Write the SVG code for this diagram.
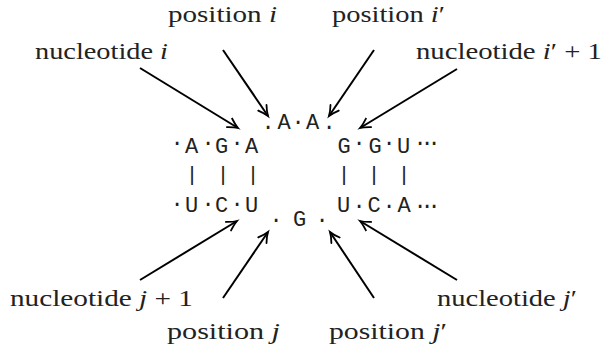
<svg xmlns="http://www.w3.org/2000/svg" width="603" height="354" viewBox="0 0 603 354">
<style>
.lbl{font-size:24px;fill:#222}
.it{font-style:italic}
.tt{font-size:22px;fill:#222;text-anchor:middle}
.bar{font-size:21px;fill:#222;text-anchor:middle}
.arr{stroke:#000;stroke-width:2;fill:none;marker-end:url(#ah)}
</style>
<defs>
<marker id="ah" markerUnits="userSpaceOnUse" markerWidth="14" markerHeight="14" viewBox="-11 -7 14 14" refX="0" refY="0" orient="auto">
<path d="M-10,-5 Q-4,-1.2 0,0 Q-4,1.2 -10,5" stroke="#000" stroke-width="1.8" fill="none" stroke-linecap="round"/>
</marker>
</defs>
<rect width="603" height="354" fill="#fff"/>
<g id="sequence" font-family="Liberation Mono, monospace">
<text class="tt" x="177 191.5 208 221.5 237 251.5" y="150 153 150 153 150 153">·A·G·A</text>
<text class="tt" x="344 359 375 389 403.5 420 427 434" y="153 150 153 150 153 150 150 150">G·G·U···</text>
<text class="bar" x="192" y="181">|</text><text class="bar" x="223" y="181">|</text><text class="bar" x="253" y="181">|</text>
<text class="bar" x="344" y="181">|</text><text class="bar" x="374" y="181">|</text><text class="bar" x="404" y="181">|</text>
<text class="tt" x="177 191.5 208 221.5 237 251.5" y="211 212 211 212 211 212">·U·C·U</text>
<text class="tt" x="343.5 359 374 389 404 420 427 434" y="212 213 212 213 212 213 213 213">U·C·A···</text>
<text class="tt" x="268 284 298 312.5 329" y="129 129 129 129 129">.A·A.</text>
<text class="tt" x="276 299.5 322" y="227 226 227">·G·</text>
</g>
<g id="connectors">
<line class="arr" x1="140" y1="68" x2="238" y2="128"/>
<line class="arr" x1="223" y1="50" x2="268" y2="116"/>
<line class="arr" x1="374" y1="50" x2="329" y2="116"/>
<line class="arr" x1="457" y1="69" x2="360" y2="128"/>
<line class="arr" x1="140" y1="280" x2="237" y2="221"/>
<line class="arr" x1="223" y1="298" x2="268" y2="232"/>
<line class="arr" x1="374" y1="298" x2="330" y2="232"/>
<line class="arr" x1="457" y1="280" x2="360" y2="221"/>
</g>
<g font-family="Liberation Serif, serif">
<g id="label-nuc-i"><text class="lbl" x="35" y="59" textLength="133" lengthAdjust="spacingAndGlyphs">nucleotide <tspan class="it">i</tspan></text></g>
<g id="label-pos-i"><text class="lbl" x="168" y="22" textLength="109" lengthAdjust="spacingAndGlyphs">position <tspan class="it">i</tspan></text></g>
<g id="label-pos-i2"><text class="lbl" x="332" y="22" textLength="113" lengthAdjust="spacingAndGlyphs">position <tspan class="it">i</tspan>′</text></g>
<g id="label-nuc-i2"><text class="lbl" x="416" y="59" textLength="186" lengthAdjust="spacingAndGlyphs">nucleotide <tspan class="it">i</tspan>′ + 1</text></g>
<g id="label-nuc-j"><text class="lbl" x="10" y="306" textLength="183" lengthAdjust="spacingAndGlyphs">nucleotide <tspan class="it">j</tspan> + 1</text></g>
<g id="label-pos-j"><text class="lbl" x="167" y="339" textLength="113" lengthAdjust="spacingAndGlyphs">position <tspan class="it">j</tspan></text></g>
<g id="label-nuc-j2"><text class="lbl" x="437" y="306" textLength="140" lengthAdjust="spacingAndGlyphs">nucleotide <tspan class="it">j</tspan>′</text></g>
<g id="label-pos-j2"><text class="lbl" x="329" y="339" textLength="118" lengthAdjust="spacingAndGlyphs">position <tspan class="it">j</tspan>′</text></g>
</g>
</svg>
